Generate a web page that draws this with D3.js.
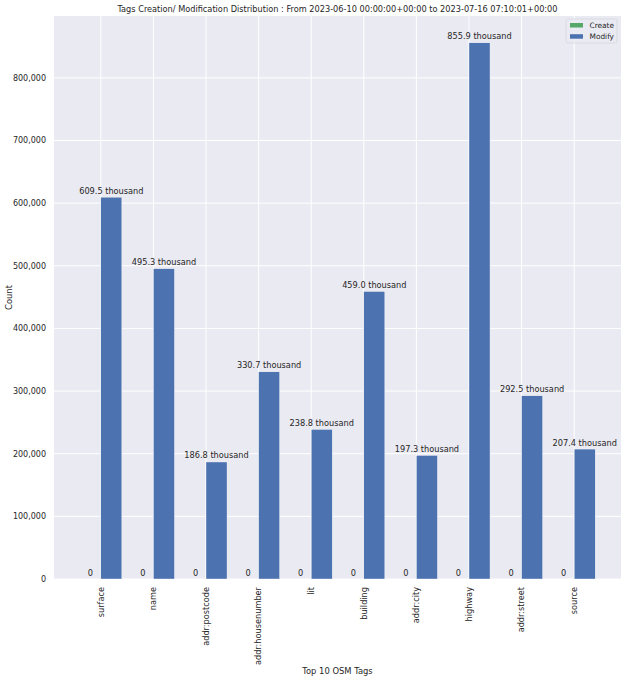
<!DOCTYPE html>
<html>
<head>
<meta charset="utf-8">
<script src="https://cdn.jsdelivr.net/npm/d3@7"></script>
<style>
  body { margin: 0; background: #fff; }
  svg { font-family: "DejaVu Sans", sans-serif; }
</style>
</head>
<body>
<svg id="chart" width="626" height="680"></svg>
<script>
const tags = ["surface", "name", "addr:postcode", "addr:housenumber", "lit",
  "building", "addr:city", "highway", "addr:street", "source"];
const createCounts = [0, 0, 0, 0, 0, 0, 0, 0, 0, 0];
const modifyCounts = [609500, 495300, 186800, 330700, 238800, 459000, 197300, 855900, 292500, 207400];
const yTicks = [0, 100000, 200000, 300000, 400000, 500000, 600000, 700000, 800000];
const seriesNames = ["Create", "Modify"];
const seriesColors = ["#55A868", "#4C72B0"];

const svg = d3.select("#chart");
const plotL = 54, plotR = 621, plotT = 16, plotB = 579;
const barW = 0.4;

// x is in "category index" units, like matplotlib
const x = d3.scaleLinear()
  .domain([-0.89, tags.length - 1 + 0.89])
  .range([plotL, plotR]);
const y = d3.scaleLinear()
  .domain([0, d3.max(modifyCounts) * 1.05])
  .range([plotB, plotT]);

// background
svg.append("rect")
  .attr("x", plotL).attr("y", plotT)
  .attr("width", plotR - plotL).attr("height", plotB - plotT)
  .attr("fill", "#EAEAF2");

// grid
svg.append("g").selectAll("line").data(yTicks).join("line")
  .attr("x1", plotL).attr("x2", plotR)
  .attr("y1", d => y(d)).attr("y2", d => y(d))
  .attr("stroke", "#fff").attr("stroke-width", 1);
svg.append("g").selectAll("line").data(tags).join("line")
  .attr("x1", (d, i) => x(i)).attr("x2", (d, i) => x(i))
  .attr("y1", plotT).attr("y2", plotB)
  .attr("stroke", "#fff").attr("stroke-width", 1);

// bars
const series = [createCounts, modifyCounts];
series.forEach((vals, s) => {
  const off = s === 0 ? -barW : 0;
  svg.append("g").selectAll("rect").data(vals).join("rect")
    .attr("x", (d, i) => x(i + off))
    .attr("width", x(barW) - x(0))
    .attr("y", d => y(d))
    .attr("height", d => y(0) - y(d))
    .attr("fill", seriesColors[s])
    .attr("stroke", "#fff").attr("stroke-width", 0.4);

  svg.append("g").selectAll("text").data(vals).join("text")
    .attr("x", (d, i) => x(i + off + barW / 2))
    .attr("y", d => y(d) - 3.5)
    .attr("text-anchor", "middle")
    .attr("font-size", 8.2)
    .attr("fill", "#262626")
    .text(d => d === 0 ? "0" : (d / 1000).toFixed(1) + " thousand");
});

// y axis labels
const fmt = d3.format(",");
svg.append("g").selectAll("text").data(yTicks).join("text")
  .attr("x", 46)
  .attr("y", d => y(d))
  .attr("dy", "0.35em")
  .attr("text-anchor", "end")
  .attr("font-size", 8)
  .attr("fill", "#262626")
  .text(d => fmt(d));

// x tick labels (rotated)
svg.append("g").selectAll("text").data(tags).join("text")
  .attr("transform", (d, i) => `translate(${x(i)},${plotB + 8}) rotate(-90)`)
  .attr("dy", "0.35em")
  .attr("text-anchor", "end")
  .attr("font-size", 8.2)
  .attr("fill", "#262626")
  .text(d => d);

// axis titles
svg.append("text")
  .attr("x", (plotL + plotR) / 2).attr("y", 674)
  .attr("text-anchor", "middle")
  .attr("font-size", 8.4).attr("fill", "#262626")
  .text("Top 10 OSM Tags");
svg.append("text")
  .attr("transform", `translate(12,${(plotT + plotB) / 2}) rotate(-90)`)
  .attr("text-anchor", "middle")
  .attr("font-size", 8.4).attr("fill", "#262626")
  .text("Count");

// title
svg.append("text")
  .attr("x", (plotL + plotR) / 2).attr("y", 12)
  .attr("text-anchor", "middle")
  .attr("font-size", 8.2).attr("fill", "#262626")
  .text("Tags Creation/ Modification Distribution : From 2023-06-10 00:00:00+00:00 to 2023-07-16 07:10:01+00:00");

// legend
const lg = svg.append("g").attr("transform", "translate(566,19)");
lg.append("rect")
  .attr("width", 51).attr("height", 24).attr("rx", 2)
  .attr("fill", "#EAEAF2").attr("fill-opacity", 0.8)
  .attr("stroke", "#d0d0d8").attr("stroke-width", 0.6);
seriesNames.forEach((n, i) => {
  lg.append("rect")
    .attr("x", 4).attr("y", 4 + i * 11.2)
    .attr("width", 13).attr("height", 4.5)
    .attr("fill", seriesColors[i]);
  lg.append("text")
    .attr("x", 23.5).attr("y", 6.3 + i * 11.2)
    .attr("dy", "0.35em")
    .attr("font-size", 7.4)
    .attr("fill", "#262626")
    .text(n);
});
</script>
</body>
</html>
